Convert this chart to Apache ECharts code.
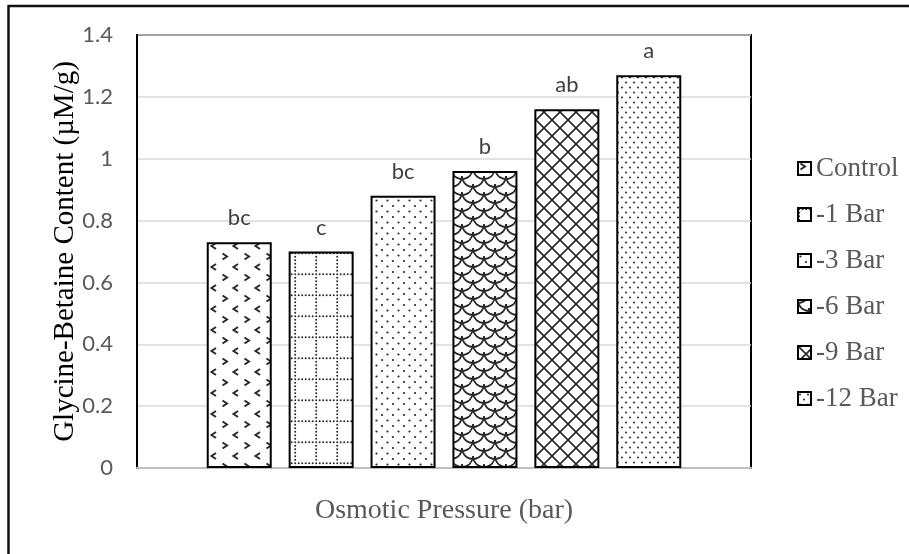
<!DOCTYPE html>
<html><head><meta charset="utf-8">
<script src="https://cdn.jsdelivr.net/npm/echarts@6/dist/echarts.min.js"></script>
<style>html,body{margin:0;padding:0;background:#fff}#c{width:909px;height:554px}</style>
</head><body><div id="c"></div>
<script>
const categories = ['Control', '-1 Bar', '-3 Bar', '-6 Bar', '-9 Bar', '-12 Bar'];
const values = [0.73, 0.70, 0.88, 0.96, 1.16, 1.27];
const letters = ['bc', 'c', 'bc', 'b', 'ab', 'a'];
const yTicks = [0, 0.2, 0.4, 0.6, 0.8, 1, 1.2, 1.4];

function tile(w, h, draw) {
  const c = document.createElement('canvas');
  c.width = w; c.height = h;
  const g = c.getContext('2d');
  g.fillStyle = '#fff'; g.fillRect(0, 0, w, h);
  g.strokeStyle = '#2a2a2a'; g.fillStyle = '#2a2a2a';
  draw(g, w, h);
  return c;
}
function dot(g, x, y, r) { g.beginPath(); g.arc(x, y, r, 0, Math.PI * 2); g.fill(); }

const patterns = [
  tile(22, 21, g => { // chevrons
    g.lineWidth = 2;
    g.beginPath(); g.moveTo(2.5, 1.5); g.lineTo(7, 4.5); g.lineTo(2.5, 7.5); g.stroke();
    g.beginPath(); g.moveTo(18, 12); g.lineTo(13.5, 15); g.lineTo(18, 18); g.stroke();
  }),
  tile(21, 21, g => { // dotted grid
    for (let i = 0; i < 6; i++) { dot(g, i * 3.5 + 1.2, 1.2, 1); if (i > 0) dot(g, 1.2, i * 3.5 + 1.2, 1); }
  }),
  tile(11, 11, g => { // sparse dots
    dot(g, 2.5, 2.5, 1.1); dot(g, 8, 8, 1.1);
  }),
  tile(22, 16, g => { // shingles
    g.lineWidth = 1.7;
    g.beginPath(); g.arc(11, 0, 11, 0, Math.PI); g.stroke();
    g.beginPath(); g.arc(0, 8, 11, 0, Math.PI); g.stroke();
    g.beginPath(); g.arc(22, 8, 11, 0, Math.PI); g.stroke();
    g.beginPath(); g.arc(11, 16, 11, 0, Math.PI); g.stroke();
    g.beginPath(); g.arc(0, -8, 11, 0, Math.PI); g.stroke();
    g.beginPath(); g.arc(22, -8, 11, 0, Math.PI); g.stroke();
  }),
  tile(16, 16, g => { // diagonal crosshatch
    g.lineWidth = 1.7;
    g.beginPath(); g.moveTo(-1, -1); g.lineTo(17, 17); g.moveTo(17, -1); g.lineTo(-1, 17); g.stroke();
  }),
  tile(8, 10, g => { // dense dots
    dot(g, 2, 2.5, 1); dot(g, 6, 7.5, 1);
  })
];

const series = categories.map((name, i) => ({
  name: name,
  type: 'bar',
  barWidth: 65,
  barGap: '26%',
  data: [values[i]],
  itemStyle: { color: { image: patterns[i], repeat: 'repeat' }, borderColor: '#000', borderWidth: 2 },
  label: {
    show: true, position: 'top', distance: 13,
    formatter: () => letters[i],
    fontFamily: 'Lato', fontSize: 22, color: '#404040'
  }
}));

const chart = echarts.init(document.getElementById('c'));
chart.setOption({
  animation: false,
  backgroundColor: '#fff',
  grid: { left: 137, right: 158, top: 35, bottom: 86, show: true, borderColor: '#000', borderWidth: 2, containLabel: false },
  graphic: [
    { type: 'line', shape: { x1: 8.5, y1: 6, x2: 909, y2: 6 }, style: { stroke: '#111', lineWidth: 2.5 } },
    { type: 'line', shape: { x1: 8.5, y1: 5, x2: 8.5, y2: 554 }, style: { stroke: '#111', lineWidth: 2.5 } }
  ],
  legend: {
    orient: 'vertical', left: 792, top: 150,
    itemWidth: 13, itemHeight: 13, itemGap: 19,
    icon: 'rect',
    textStyle: { fontFamily: 'Liberation Serif', fontSize: 27, color: '#595959', lineHeight: 25 },
    data: categories
  },
  xAxis: {
    type: 'category', data: [''],
    name: 'Osmotic Pressure (bar)', nameLocation: 'middle', nameGap: 29, nameMoveOverlap: false,
    nameTextStyle: { fontFamily: 'Liberation Serif', fontSize: 28, color: '#595959' },
    axisLine: { lineStyle: { color: '#bfbfbf', width: 2 } },
    axisTick: { show: false }, axisLabel: { show: false }
  },
  yAxis: {
    type: 'value', min: yTicks[0], max: yTicks[yTicks.length - 1], interval: 0.2,
    name: 'Glycine-Betaine Content (µM/g)', nameLocation: 'middle', nameGap: 57, nameMoveOverlap: false,
    nameTextStyle: { fontFamily: 'Liberation Serif', fontSize: 29, color: '#000' },
    axisLine: { show: true, lineStyle: { color: '#000', width: 2 } },
    axisTick: { show: false },
    axisLabel: { margin: 24, fontFamily: 'Lato', fontSize: 22, color: '#595959' },
    splitLine: { lineStyle: { color: '#d9d9d9', width: 1.5 } }
  },
  series: series
});
</script></body></html>
